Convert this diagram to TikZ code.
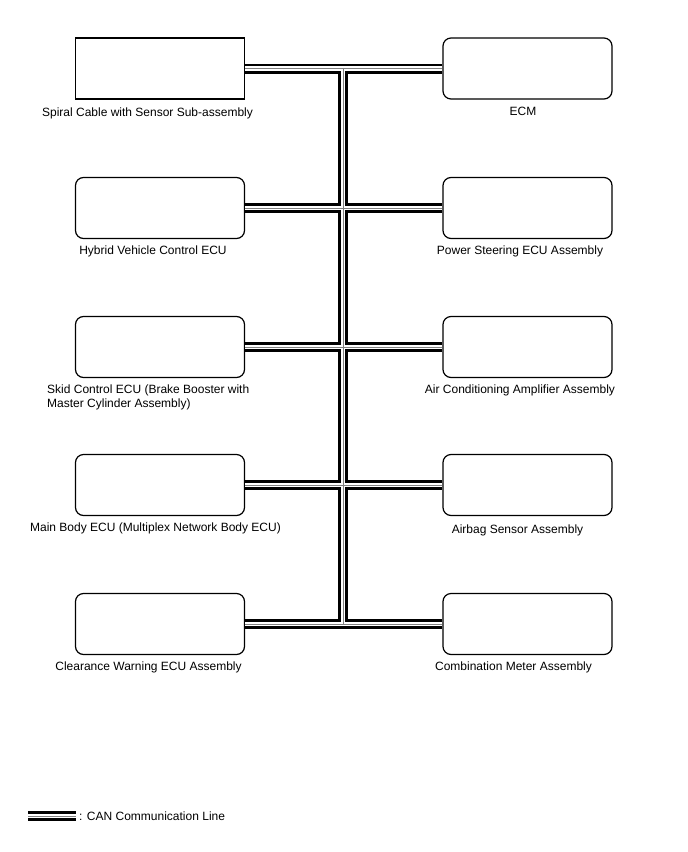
\documentclass[tikz,border=0pt]{standalone}
\usepackage{fontspec}
\setmainfont{Liberation Sans}
\usepackage{tikz}
\usetikzlibrary{positioning}

\begin{document}
\begin{tikzpicture}[
  x=1pt, y=-1pt,
  ecu/.style={draw, line width=1.2pt, rounded corners=8pt, minimum width=169pt, minimum height=61pt, inner sep=0pt},
  sqecu/.style={ecu, sharp corners},
  lbl/.style={inner sep=0pt, font=\fontsize{12}{14}\selectfont},
  canline/.style={draw=black, line width=10pt,
    postaction={draw=white, line width=4.6pt},
    postaction={draw=black!50, line width=1pt}}
]
\useasboundingbox (0,0) rectangle (688,852);

% left column
\node[sqecu] (spiral) at (160,68.5) {};
\node[ecu] (hvecu) at (160,208) {};
\node[ecu] (skid) at (160,347) {};
\node[ecu] (mainbody) at (160,485) {};
\node[ecu] (clearance) at (160,624) {};

% right column
\node[ecu] (ecm) at (527.5,68.5) {};
\node[ecu] (steer) at (527.5,208) {};
\node[ecu] (aircon) at (527.5,347) {};
\node[ecu] (airbag) at (527.5,485) {};
\node[ecu] (meter) at (527.5,624) {};

% labels
\node[lbl] (spirallbl) at (147.5,113) {Spiral Cable with Sensor Sub-assembly};
\node[lbl] (hveculbl) at (153,251) {Hybrid Vehicle Control ECU};
\node[lbl, align=left, anchor=west] (skidlbl) at (47,397) {Skid Control ECU (Brake Booster with\\Master Cylinder Assembly)};
\node[lbl] (mainbodylbl) at (155.5,528) {Main Body ECU (Multiplex Network Body ECU)};
\node[lbl] (clearancelbl) at (148.5,667) {Clearance Warning ECU Assembly};
\node[lbl] (ecmlbl) at (523,111) {ECM};
\node[lbl] (steerlbl) at (520,251) {Power Steering ECU Assembly};
\node[lbl] (airconlbl) at (520,390) {Air Conditioning Amplifier Assembly};
\node[lbl] (airbaglbl) at (517.5,530) {Airbag Sensor Assembly};
\node[lbl] (meterlbl) at (513.5,667) {Combination Meter Assembly};

% CAN bus
\coordinate (bustop) at (spiral.east -| 343,0);
\coordinate (busbot) at (clearance.east -| 343,0);
\path[canline] (spiral.east) -- (ecm.west)
  (hvecu.east) -- (steer.west)
  (skid.east) -- (aircon.west)
  (mainbody.east) -- (airbag.west)
  (clearance.east) -- (meter.west)
  (bustop) -- (busbot);

% legend
\coordinate (legA) at (28,816);
\coordinate (legB) at (76,816);
\path[canline] (legA) -- (legB);
\node[lbl, anchor=west] (legtxt) at (79,816) {: CAN Communication Line};
\end{tikzpicture}
\end{document}
